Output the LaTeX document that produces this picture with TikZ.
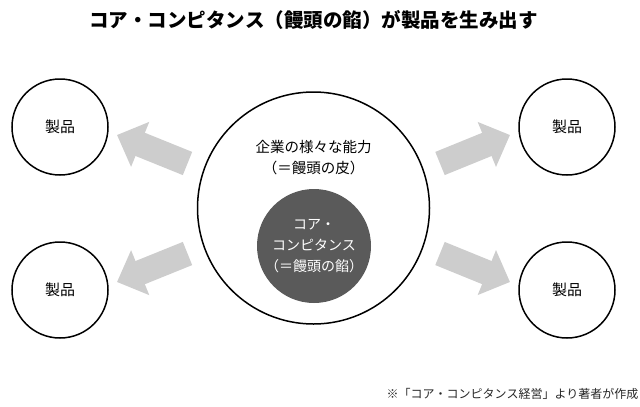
\documentclass[tikz,border=0pt]{standalone}
\usepackage{fontspec}
\setmainfont{Noto Sans CJK JP}
\usetikzlibrary{arrows.meta}
\definecolor{coregray}{HTML}{5A5A5A}
\definecolor{arrowgray}{HTML}{CDCDCD}
\begin{document}
\begin{tikzpicture}[x=1pt, y=-1pt,
  product/.style={circle, draw, line width=1.5pt, minimum size=96pt, inner sep=0pt,
    font=\fontsize{15}{16}\selectfont},
  fatarrow/.style={arrowgray, line width=25pt, -{Triangle[length=25pt, width=47pt]}},
  label/.style={align=center, font=\fontsize{14}{21}\selectfont}]
\useasboundingbox (0,0) rectangle (640,407);
  \node[font=\fontsize{19.5}{22}\selectfont\bfseries] (title) at (313.5,20)
    {コア・コンピタンス（饅頭の餡）が製品を生み出す};
  % the bun
  \node[circle, draw, line width=1.5pt, minimum size=232pt] (skin) at (313.5,208) {};
  \node[label, font=\fontsize{14.5}{21}\selectfont] (skintext) at (313.5,157.5)
    {企業の様々な能力\\（＝饅頭の皮）};
  \node[label, circle, fill=coregray, text=white, minimum size=114pt, inner sep=0pt]
    (core) at (314,246) {コア・\\コンピタンス\\（＝饅頭の餡）};
  \node[product] (p1) at (60,127) {製品};
  \node[product] (p2) at (60,290) {製品};
  \node[product] (p3) at (567,127) {製品};
  \node[product] (p4) at (567,290) {製品};
  \coordinate (a1) at (187.5,163.5);
  \coordinate (b1) at (117,135);
  \coordinate (a2) at (440,163.5);
  \coordinate (b2) at (510,135);
  \coordinate (a3) at (187.5,253.5);
  \coordinate (b3) at (117,282);
  \coordinate (a4) at (440,253.5);
  \coordinate (b4) at (510,282);
  \draw[fatarrow] (a1) -- (b1);
  \draw[fatarrow] (a2) -- (b2);
  \draw[fatarrow] (a3) -- (b3);
  \draw[fatarrow] (a4) -- (b4);
  \node[font=\fontsize{12}{14}\selectfont, text=black!85] (note) at (512.5,394)
    {※「コア・コンピタンス経営」より著者が作成};
\end{tikzpicture}
\end{document}
